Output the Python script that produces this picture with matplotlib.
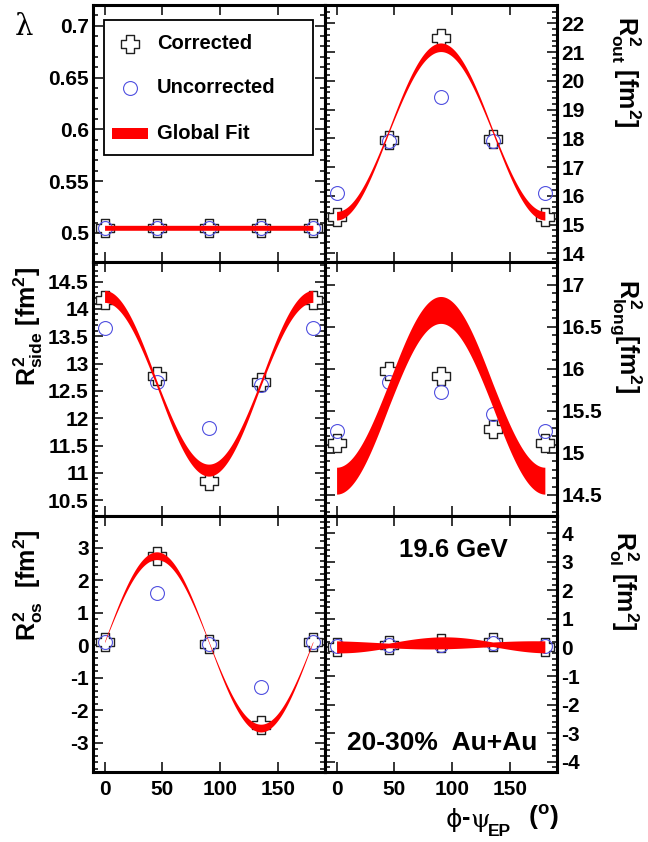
import numpy as np
import matplotlib
matplotlib.use('Agg')
import matplotlib.pyplot as plt
from matplotlib.path import Path
from matplotlib.patches import Rectangle
from matplotlib.ticker import MultipleLocator, FuncFormatter, FixedLocator

plt.rcParams['font.family'] = ['Liberation Sans', 'DejaVu Sans']
plt.rcParams['font.weight'] = 'bold'
plt.rcParams['axes.unicode_minus'] = False
plt.rcParams['mathtext.fontset'] = 'custom'
plt.rcParams['mathtext.rm'] = 'Liberation Sans:bold'
plt.rcParams['mathtext.it'] = 'Liberation Sans:bold'
plt.rcParams['mathtext.bf'] = 'Liberation Sans:bold'
plt.rcParams['mathtext.sf'] = 'Liberation Sans:bold'

# ---------------- data ----------------
phi = [0, 45, 90, 135, 180]

lam_corr = [0.505, 0.505, 0.505, 0.505, 0.505]
lam_unc = [0.505, 0.505, 0.505, 0.505, 0.505]

rout_corr = [15.28, 17.96, 21.49, 17.98, 15.28]
rout_unc = [16.10, 17.90, 19.43, 17.90, 16.10]

rside_corr = [14.16, 12.78, 10.85, 12.66, 14.16]
rside_unc = [13.66, 12.66, 11.82, 12.60, 13.66]

rlong_corr = [15.12, 15.97, 15.91, 15.29, 15.12]
rlong_unc = [15.26, 15.84, 15.72, 15.46, 15.26]

ros_corr = [0.10, 2.75, 0.05, -2.45, 0.10]
ros_unc = [0.10, 1.60, 0.05, -1.30, 0.10]

rol_corr = [0.03, 0.09, 0.15, 0.20, 0.03]
rol_unc = [0.05, 0.09, 0.09, 0.17, 0.05]

# global fit parameters: offset, cos(2phi) amp, sin(2phi) amp,
# band half-width: constant, |cos| part, |sin| part
fit_lam = [0.505, 0.0, 0.0, 0.0024, 0.0, 0.0]
fit_rout = [18.24, -2.93, 0.0, 0.06, 0.09, 0.0]
fit_rside = [12.64, 1.59, 0.0, 0.05, 0.06, 0.0]
fit_rlong = [15.685, -1.015, 0.0, 0.14, 0.02, 0.0]
fit_ros = [0.10, 0.0, 2.65, 0.02, 0.0, 0.10]
fit_rol = [0.09, -0.07, -0.02, 0.08, 0.13, 0.0]

xticks = [0, 50, 100, 150]

# ---------------- style ----------------
W, H = 648, 842
fig = plt.figure(figsize=(W / 100, H / 100), dpi=100)

def fx(px):
    return px / W

def fy(py):
    return 1 - py / H

a, b = 0.2, 0.5
cross_verts = [(-a, -b), (a, -b), (a, -a), (b, -a), (b, a), (a, a), (a, b),
               (-a, b), (-a, a), (-b, a), (-b, -a), (-a, -a), (-a, -b)]
cross = Path(cross_verts, closed=True)

CROSS_KW = dict(marker=cross, markersize=13, markerfacecolor='white',
                markeredgecolor='#202020', markeredgewidth=1.0, linestyle='none', zorder=3)
CIRC_KW = dict(marker='o', markersize=10, markerfacecolor='none',
               markeredgecolor='#5050e0', markeredgewidth=0.8, linestyle='none', zorder=4)
RED = '#ff0000'
TICK_FS = 15
TITLE_FS = 18

col_x = [93, 325]
col_w = 232
rows = [(5, 262), (262, 516), (516, 772)]

panels = [
    # (row, col, corr, unc, fit, ylim, major, minor)
    (0, 0, lam_corr, lam_unc, fit_lam, (0.472, 0.72), [0.5, 0.55, 0.6, 0.65, 0.7], 0.01),
    (0, 1, rout_corr, rout_unc, fit_rout, (13.7, 22.64), list(range(14, 23)), 0.2),
    (1, 0, rside_corr, rside_unc, fit_rside, (10.21, 14.86), [10.5, 11, 11.5, 12, 12.5, 13, 13.5, 14, 14.5], 0.1),
    (1, 1, rlong_corr, rlong_unc, fit_rlong, (14.25, 17.27), [14.5, 15, 15.5, 16, 16.5, 17], 0.1),
    (2, 0, ros_corr, ros_unc, fit_ros, (-3.9, 3.97), list(range(-3, 4)), 0.2),
    (2, 1, rol_corr, rol_unc, fit_rol, (-4.36, 4.6), list(range(-4, 5)), 0.2),
]

fmt = FuncFormatter(lambda v, p: '%g' % v)
phig = np.linspace(0, 180, 721)
axes = {}
for r, c, corr, unc, fit, ylim, major, minor in panels:
    top, bot = rows[r]
    ax = fig.add_axes([fx(col_x[c]), fy(bot), col_w / W, (bot - top) / H])
    axes[(r, c)] = ax
    ax.plot(phi, corr, **CROSS_KW)
    ax.plot(phi, unc, **CIRC_KW)
    t = np.deg2rad(2 * phig)
    cen = fit[0] + fit[1] * np.cos(t) + fit[2] * np.sin(t)
    hw = fit[3] + fit[4] * np.abs(np.cos(t)) + fit[5] * np.abs(np.sin(t))
    ax.fill_between(phig, cen - hw, cen + hw, color=RED, linewidth=0, zorder=5)
    ax.set_xlim(-10, 190.5)
    ax.set_ylim(*ylim)
    ax.xaxis.set_major_locator(FixedLocator(xticks))
    ax.yaxis.set_major_locator(FixedLocator(major))
    ax.yaxis.set_minor_locator(MultipleLocator(minor))
    ax.yaxis.set_major_formatter(fmt)
    ax.xaxis.set_major_formatter(fmt)
    ax.tick_params(which='both', direction='in', top=True, right=True, bottom=True, left=True,
                   labelsize=TICK_FS, width=1.1)
    ax.tick_params(which='major', length=7)
    ax.tick_params(which='minor', length=3.5)
    ax.tick_params(axis='x', which='major', pad=6)
    ax.tick_params(labelbottom=(r == 2), labelleft=(c == 0), labelright=(c == 1))
    ax.tick_params(axis='y', pad=3)
    for s in ax.spines.values():
        s.set_linewidth(2.2)

# ---------------- legend (top-left panel) ----------------
ax0 = axes[(0, 0)]
def af(px, py):
    return ((px - 93) / 232, (262 - py) / 257)

x0, y0 = af(104, 155)
x1, y1 = af(313, 20)
ax0.add_patch(Rectangle((x0, y0), x1 - x0, y1 - y0, transform=ax0.transAxes,
                        facecolor='white', edgecolor='black', linewidth=1.3, zorder=10))
mx, my = af(130, 44)
ax0.plot([mx], [my], transform=ax0.transAxes, clip_on=False, **{**CROSS_KW, 'zorder': 11})
mx, my = af(130, 88)
ax0.plot([mx], [my], transform=ax0.transAxes, clip_on=False, **{**CIRC_KW, 'zorder': 11})
rx0, ry0 = af(112, 139)
rx1, ry1 = af(148, 128)
ax0.add_patch(Rectangle((rx0, ry0), rx1 - rx0, ry1 - ry0, transform=ax0.transAxes,
                        facecolor=RED, edgecolor='none', zorder=11))
for label, py in [('Corrected', 44), ('Uncorrected', 88), ('Global Fit', 134)]:
    tx, ty = af(157, py)
    ax0.text(tx, ty, label, transform=ax0.transAxes, fontsize=14.5, ha='left', va='center', zorder=12)

# ---------------- annotations ----------------
fig.text(fx(453), fy(550), '19.6 GeV', fontsize=18.5, ha='center', va='center')
fig.text(fx(442), fy(743), '20-30%  Au+Au', fontsize=19, ha='center', va='center')

# axis titles
fig.text(fx(24), fy(27), 'λ', family='DejaVu Serif', fontweight='normal', fontsize=21,
         ha='center', va='center')
fig.text(fx(28), fy(267), r'$R^{2}_{side}$ [fm$^{2}$]', rotation=90, fontsize=TITLE_FS,
         ha='center', va='top')
fig.text(fx(28), fy(529), r'$R^{2}_{os}$  [fm$^{2}$]', rotation=90, fontsize=TITLE_FS,
         ha='center', va='top')
fig.text(fx(626), fy(16), r'$R^{2}_{out}$ [fm$^{2}$]', rotation=-90, fontsize=TITLE_FS,
         ha='center', va='top')
fig.text(fx(626), fy(279), r'$R^{2}_{long}$[fm$^{2}$]', rotation=-90, fontsize=TITLE_FS,
         ha='center', va='top')
fig.text(fx(624), fy(531), r'$R^{2}_{ol}$ [fm$^{2}$]', rotation=-90, fontsize=TITLE_FS,
         ha='center', va='top')

# x-axis title: phi - psi_EP (o)
fig.text(fx(446), fy(820), 'ϕ', family='DejaVu Sans', fontweight='normal', fontsize=18,
         ha='left', va='center')
fig.text(fx(462), fy(818), '-', fontsize=18, ha='left', va='center')
fig.text(fx(470), fy(820), 'ψ', family='DejaVu Serif', fontweight='normal', fontsize=18,
         ha='left', va='center')
fig.text(fx(488), fy(831), 'EP', fontsize=12.5, ha='left', va='center')
fig.text(fx(528), fy(818), r'($^{o}$)', fontsize=19, ha='left', va='center')

fig.savefig('out.png', dpi=100)
